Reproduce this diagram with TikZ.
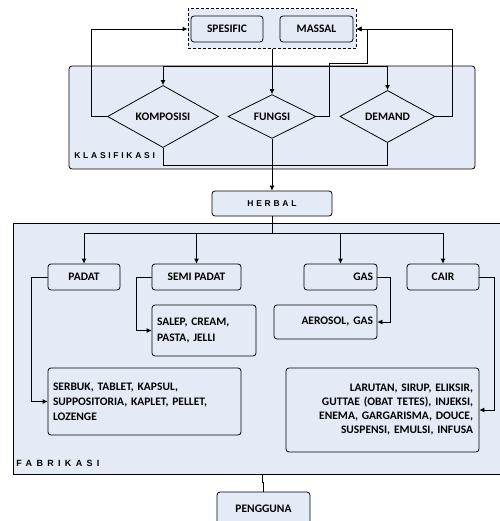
\documentclass[tikz,border=0pt]{standalone}
\usepackage{fontspec}
\setmainfont{Carlito}
\newfontfamily\wideletters[LetterSpace=32]{Liberation Sans}
\usetikzlibrary{shapes.geometric,arrows.meta}
\definecolor{MyGrey}{HTML}{E5EBF6}

\begin{document}
\begin{tikzpicture}[x=1pt,y=-1pt,line width=0.8pt,
    >={Latex[length=5pt,width=5pt]},
    box/.style={draw,fill=MyGrey,rounded corners=3pt,inner sep=0pt,
        font=\bfseries\fontsize{11.5}{15}\selectfont},
    decide/.style={draw,fill=MyGrey,diamond,inner sep=0pt,minimum height=39,
        font=\bfseries\fontsize{11.5}{12}\selectfont},
    area/.style={draw,fill=MyGrey,inner sep=0pt},
    tag/.style={anchor=west,inner sep=0pt,font=\wideletters\bfseries\fontsize{8.5}{10}\selectfont}]

\useasboundingbox (0,0) rectangle (499,521);

% klasifikasi
\node[area,rounded corners=3pt,minimum width=406,minimum height=103] (klas) at (272,117.5) {};
\node[tag] (klaslbl) at (74,156) {KLASIFIKASI};

\node[area,densely dashed,line width=1pt,minimum width=168,minimum height=40] (grp) at (272,29) {};
\node[box,minimum width=72,minimum height=26] (spes) at (227,29) {SPESIFIC};
\node[box,minimum width=73,minimum height=26] (mass) at (316.5,29) {MASSAL};

\node[decide,minimum width=111] (komp) at (163,116.5) {KOMPOSISI};
\node[decide,minimum width=88] (fun) at (272,116.5) {FUNGSI};
\node[decide,minimum width=95] (dem) at (387.5,116.5) {DEMAND};

\coordinate (bend) at (367,63);

\draw[->] (grp.south) -- (fun.north);
\draw[->] (grp.south) -- ++(0,17) -| (komp.north);
\draw[->] (grp.south) -- ++(0,17) -| (dem.north);
\draw[->] (komp.west) -- ++(-16,0) |- (grp.west);
\draw[->] (dem.east) -- ++(17,0) |- (grp.east);
\draw[->] (fun.east) -- ++(13,0) |- (bend) |- (grp.east);
\draw (komp.south) -- ++(0,17) -| (dem.south);

% herbal
\node[box,minimum width=120,minimum height=25,
    font=\wideletters\bfseries\fontsize{8.5}{10}\selectfont] (herbal) at (272,203.5) {HERBAL};
\draw[->] (fun.south) -- (herbal.north);

% fabrikasi
\node[area,minimum width=489,minimum height=251] (fab) at (257.5,348.5) {};
\node[tag,font=\wideletters\addfontfeature{LetterSpace=48}\bfseries\fontsize{9}{10}\selectfont]
    (fablbl) at (16,463) {FABRIKASI};

\node[box,minimum width=72,minimum height=26] (padat) at (84,277) {PADAT};
\node[box,minimum width=89,minimum height=26] (semi) at (196.5,277) {SEMI PADAT};
\node[box,minimum height=26,text width=65,inner xsep=4pt,align=right] (gas) at (340.5,277) {GAS};
\node[box,minimum width=72,minimum height=26] (cair) at (443,277) {CAIR};

\node[box,minimum height=51,text width=94,inner xsep=5pt,align=left,
    font=\bfseries\fontsize{11.5}{16}\selectfont] (salep) at (204,330.5) {SALEP, CREAM,\\PASTA, JELLI};
\node[box,minimum height=34,text width=95,inner xsep=4pt,align=right] (aero) at (325.5,322) {AEROSOL, GAS};
\node[box,minimum height=67,text width=183,inner xsep=5pt,align=left] (serbuk) at (144.5,401.5)
    {SERBUK, TABLET, KAPSUL,\\SUPPOSITORIA, KAPLET, PELLET,\\LOZENGE};
\node[box,minimum height=84,text width=181,inner xsep=6pt,align=right,
    font=\bfseries\fontsize{11.5}{14}\selectfont] (lar) at (382.5,410)
    {LARUTAN, SIRUP, ELIKSIR,\\GUTTAE (OBAT TETES), INJEKSI,\\ENEMA, GARGARISMA, DOUCE,\\SUSPENSI, EMULSI, INFUSA};

\draw[->] (herbal.south) -- ++(0,17) -| (padat.north);
\draw[->] (herbal.south) -- ++(0,17) -| (semi.north);
\draw[->] (herbal.south) -- ++(0,17) -| (gas.north);
\draw[->] (herbal.south) -- ++(0,17) -| (cair.north);

\draw[->] (padat.west) -- ++(-16,0) |- (serbuk.west);
\draw[->] (semi.west) -- ++(-15,0) |- (salep.west);
\draw[->] (gas.east) -- ++(13,0) |- (aero.east);
\draw[->] (cair.east) -- ++(15,0) |- (lar.east);

% pengguna
\node[box,minimum width=93,minimum height=34] (peng) at (263.5,509) {PENGGUNA};
\coordinate (jog) at (262,482);
\draw (jog |- fab.south) -- (jog) -| (peng.north);

\end{tikzpicture}
\end{document}
